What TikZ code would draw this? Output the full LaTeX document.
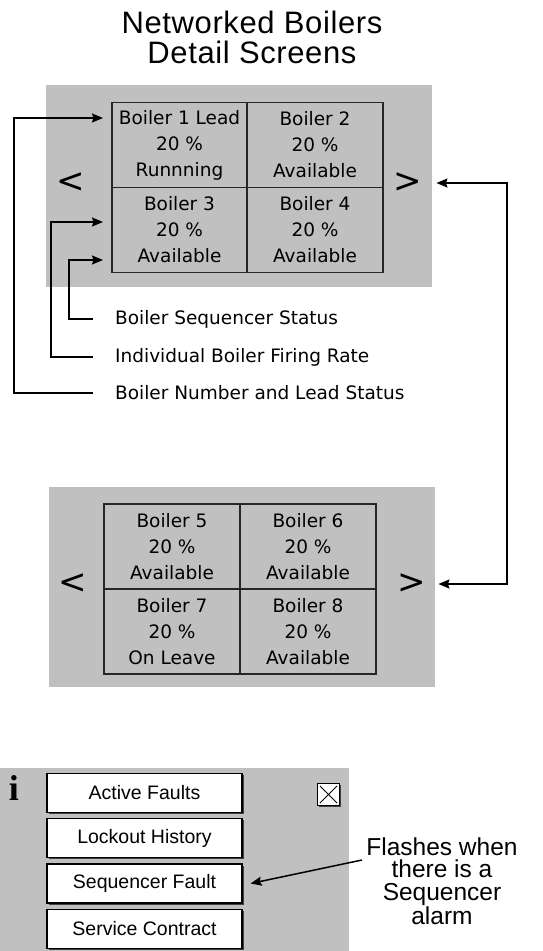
\documentclass[tikz,border=0pt]{standalone}
\usepackage{fontspec}
\setmainfont{DejaVu Sans}
\newfontfamily\arialfont{Liberation Sans}
\newfontfamily\titlefont[LetterSpace=2]{Liberation Sans}
\newfontfamily\timesfont{Liberation Serif}
\usetikzlibrary{arrows.meta,positioning,calc,shadows}
\definecolor{panelgray}{HTML}{C0C0C0}

\begin{document}
\begin{tikzpicture}[x=1pt, y=-1pt, >=Stealth,
  panel/.style={fill=panelgray, draw=none},
  cell/.style={draw=black!85, line width=1.6pt, minimum width=135.5pt, minimum height=85pt,
    align=center, inner sep=0pt, font=\fontsize{18.5}{26}\selectfont},
  navkey/.style={font=\fontsize{34}{34}\selectfont, inner sep=0pt},
  callout/.style={anchor=west, inner sep=0pt, font=\fontsize{18.5}{22}\selectfont},
  btn/.style={draw=black, fill=white, line width=1.1pt, minimum width=195pt, minimum height=39pt,
    inner sep=0pt, font=\arialfont\fontsize{19.5}{22}\selectfont,
    drop shadow={shadow xshift=1.6pt, shadow yshift=-1.6pt, fill=black!75, opacity=1}},
  pointer/.style={->, line width=1.5pt, >={Stealth[length=11pt,width=9pt,inset=1.5pt]}}]
  \useasboundingbox (0,0) rectangle (543,951);
  \node[align=center, font=\titlefont\fontsize{31}{30}\selectfont] (title) at (252,37) {Networked Boilers\\Detail Screens};
  % first detail screen
  \fill[panel] (46,85) rectangle (432,287);
  \node[cell] (b1) at (179.5,145) {Boiler 1 Lead\\20 \%\\Runnning};
  \node[cell] (b2) at (315,145) {Boiler 2\\20 \%\\Available};
  \node[cell] (b3) at (179.5,230) {Boiler 3\\20 \%\\Available};
  \node[cell] (b4) at (315,230) {Boiler 4\\20 \%\\Available};
  \node[navkey] (prevA) at (71,183) {<}; \node[navkey] (nextA) at (408,183) {>};
  % second detail screen
  \fill[panel] (49,487) rectangle (435,687);
  \node[cell] (b5) at (172,546.5) {Boiler 5\\20 \%\\Available};
  \node[cell] (b6) at (308,546.5) {Boiler 6\\20 \%\\Available};
  \node[cell] (b7) at (172,631.5) {Boiler 7\\20 \%\\On Leave};
  \node[cell] (b8) at (308,631.5) {Boiler 8\\20 \%\\Available};
  \node[navkey] (prevB) at (73,584) {<}; \node[navkey] (nextB) at (412,584) {>};
  % callouts
  \node[callout] (seqlbl) at (115,319) {Boiler Sequencer Status};
  \node[callout] (ratelbl) at (115,357) {Individual Boiler Firing Rate};
  \node[callout] (numlbl) at (115,393) {Boiler Number and Lead Status};
  \coordinate (tipNum) at (103,118); \coordinate (tipRate) at (103,222); \coordinate (tipSeq) at (103,260);
  \draw[pointer] ([xshift=-22pt]seqlbl.west) -- ++(-24,0) |- (tipSeq);
  \draw[pointer] ([xshift=-22pt]ratelbl.west) -- ++(-42,0) |- (tipRate);
  \draw[pointer] ([xshift=-22pt]numlbl.west) -- ++(-79,0) |- (tipNum);
  \coordinate (rail) at (493,0);
  \draw[pointer, <->] ([xshift=14pt]nextA.east) -- ([xshift=14pt]nextA.east -| rail) |- ([xshift=12pt]nextB.east);
  % info screen
  \fill[panel] (0,768) rectangle (349,951);
  \node[font=\timesfont\bfseries\fontsize{36}{36}\selectfont, inner sep=0pt] (info) at (14,788) {i};
  \node[btn] (faults) at (144.5,793) {Active Faults};
  \node[btn] (lockout) at (144.5,838) {Lockout History};
  \node[btn] (seqf) at (144.5,883.5) {Sequencer Fault};
  \node[btn] (service) at (144.5,929) {Service Contract};
  \node[draw=black, fill=white, line width=1.1pt, minimum size=22pt, inner sep=0pt,
    drop shadow={shadow xshift=1.3pt, shadow yshift=-1.3pt, fill=black!75, opacity=1}] (close) at (328.5,794.5) {};
  \draw[line width=0.9pt] ([shift={(3pt,3pt)}]close.south west) -- ([shift={(-3pt,-3pt)}]close.north east)
    ([shift={(3pt,-3pt)}]close.north west) -- ([shift={(-3pt,3pt)}]close.south east);
  \node[align=center, font=\arialfont\fontsize{24.5}{22.5}\selectfont] (flash) at (442,881)
    {Flashes when\\there is a\\Sequencer\\alarm};
  \draw[pointer] (362,860) -- ([xshift=8pt]seqf.east);
\end{tikzpicture}
\end{document}
